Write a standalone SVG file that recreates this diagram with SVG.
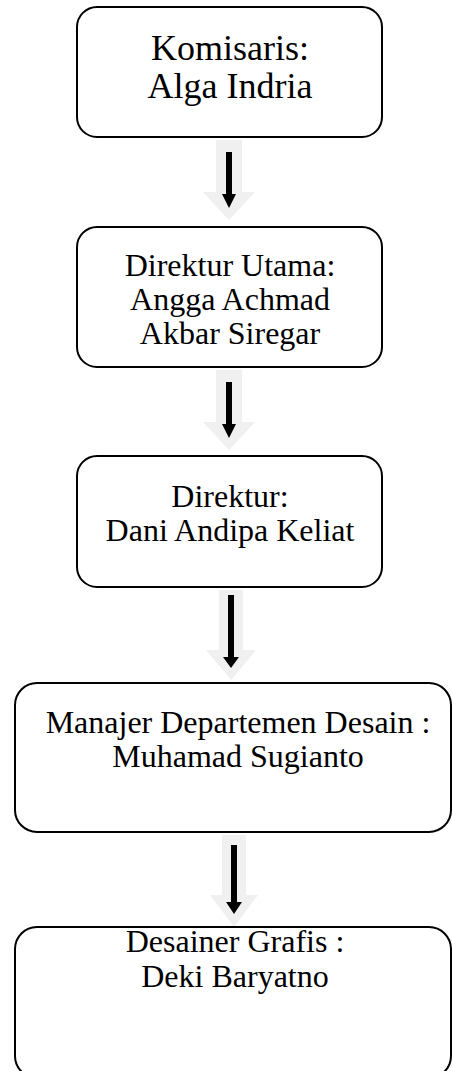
<svg xmlns="http://www.w3.org/2000/svg" width="452" height="1071" viewBox="0 0 452 1071">
<style>
.box{fill:#fff;stroke:#000;stroke-width:2}
.t{font-family:"Liberation Serif","Times New Roman",serif;font-size:32px;fill:#000;text-anchor:middle}
.big{font-size:36px}
.sh{fill:#f0f0f0}
.ar{fill:#000}
</style>
<rect width="452" height="1071" fill="#fff"/>
<g id="connectors">
<g id="c1">
<polygon class="sh" points="216,140 242,140 242,192 255,192 229,220 203,192 216,192"/>
<polygon class="ar" points="226,152 232,152 232,194 236,194 229,208 222,194 226,194"/>
</g>
<g id="c2">
<polygon class="sh" points="216,370 242,370 242,422 255,422 229,450 203,422 216,422"/>
<polygon class="ar" points="226,382 232,382 232,424 236,424 229,438 222,424 226,424"/>
</g>
<g id="c3">
<polygon class="sh" points="219,590 243,590 243,650 256,650 231,680 206,650 219,650"/>
<polygon class="ar" points="228,595 234,595 234,657 239,657 231,668 223,657 228,657"/>
</g>
<g id="c4">
<polygon class="sh" points="222,835 246,835 246,895 258,895 234,927 210,895 222,895"/>
<polygon class="ar" points="231,845 237,845 237,902 242,902 234,914 226,902 231,902"/>
</g>
</g>
<g id="n1">
<rect class="box" x="77" y="7" width="305" height="130" rx="20"/>
<text class="t big" x="230" y="60">Komisaris:</text>
<text class="t big" x="230" y="98">Alga Indria</text>
</g>
<g id="n2">
<rect class="box" x="77" y="227" width="305" height="140" rx="20"/>
<text class="t" x="230" y="276">Direktur Utama:</text>
<text class="t" x="230" y="310">Angga Achmad</text>
<text class="t" x="230" y="344">Akbar Siregar</text>
</g>
<g id="n3">
<rect class="box" x="77" y="456" width="305" height="131" rx="20"/>
<text class="t" x="230" y="507">Direktur:</text>
<text class="t" x="230" y="541">Dani Andipa Keliat</text>
</g>
<g id="n4">
<rect class="box" x="15" y="683" width="436" height="149" rx="22"/>
<text class="t" x="238" y="733">Manajer Departemen Desain :</text>
<text class="t" x="238" y="767">Muhamad Sugianto</text>
</g>
<g id="n5">
<rect class="box" x="15" y="927" width="436" height="151" rx="22"/>
<text class="t" x="235" y="952">Desainer Grafis :</text>
<text class="t" x="235" y="987">Deki Baryatno</text>
</g>
</svg>
